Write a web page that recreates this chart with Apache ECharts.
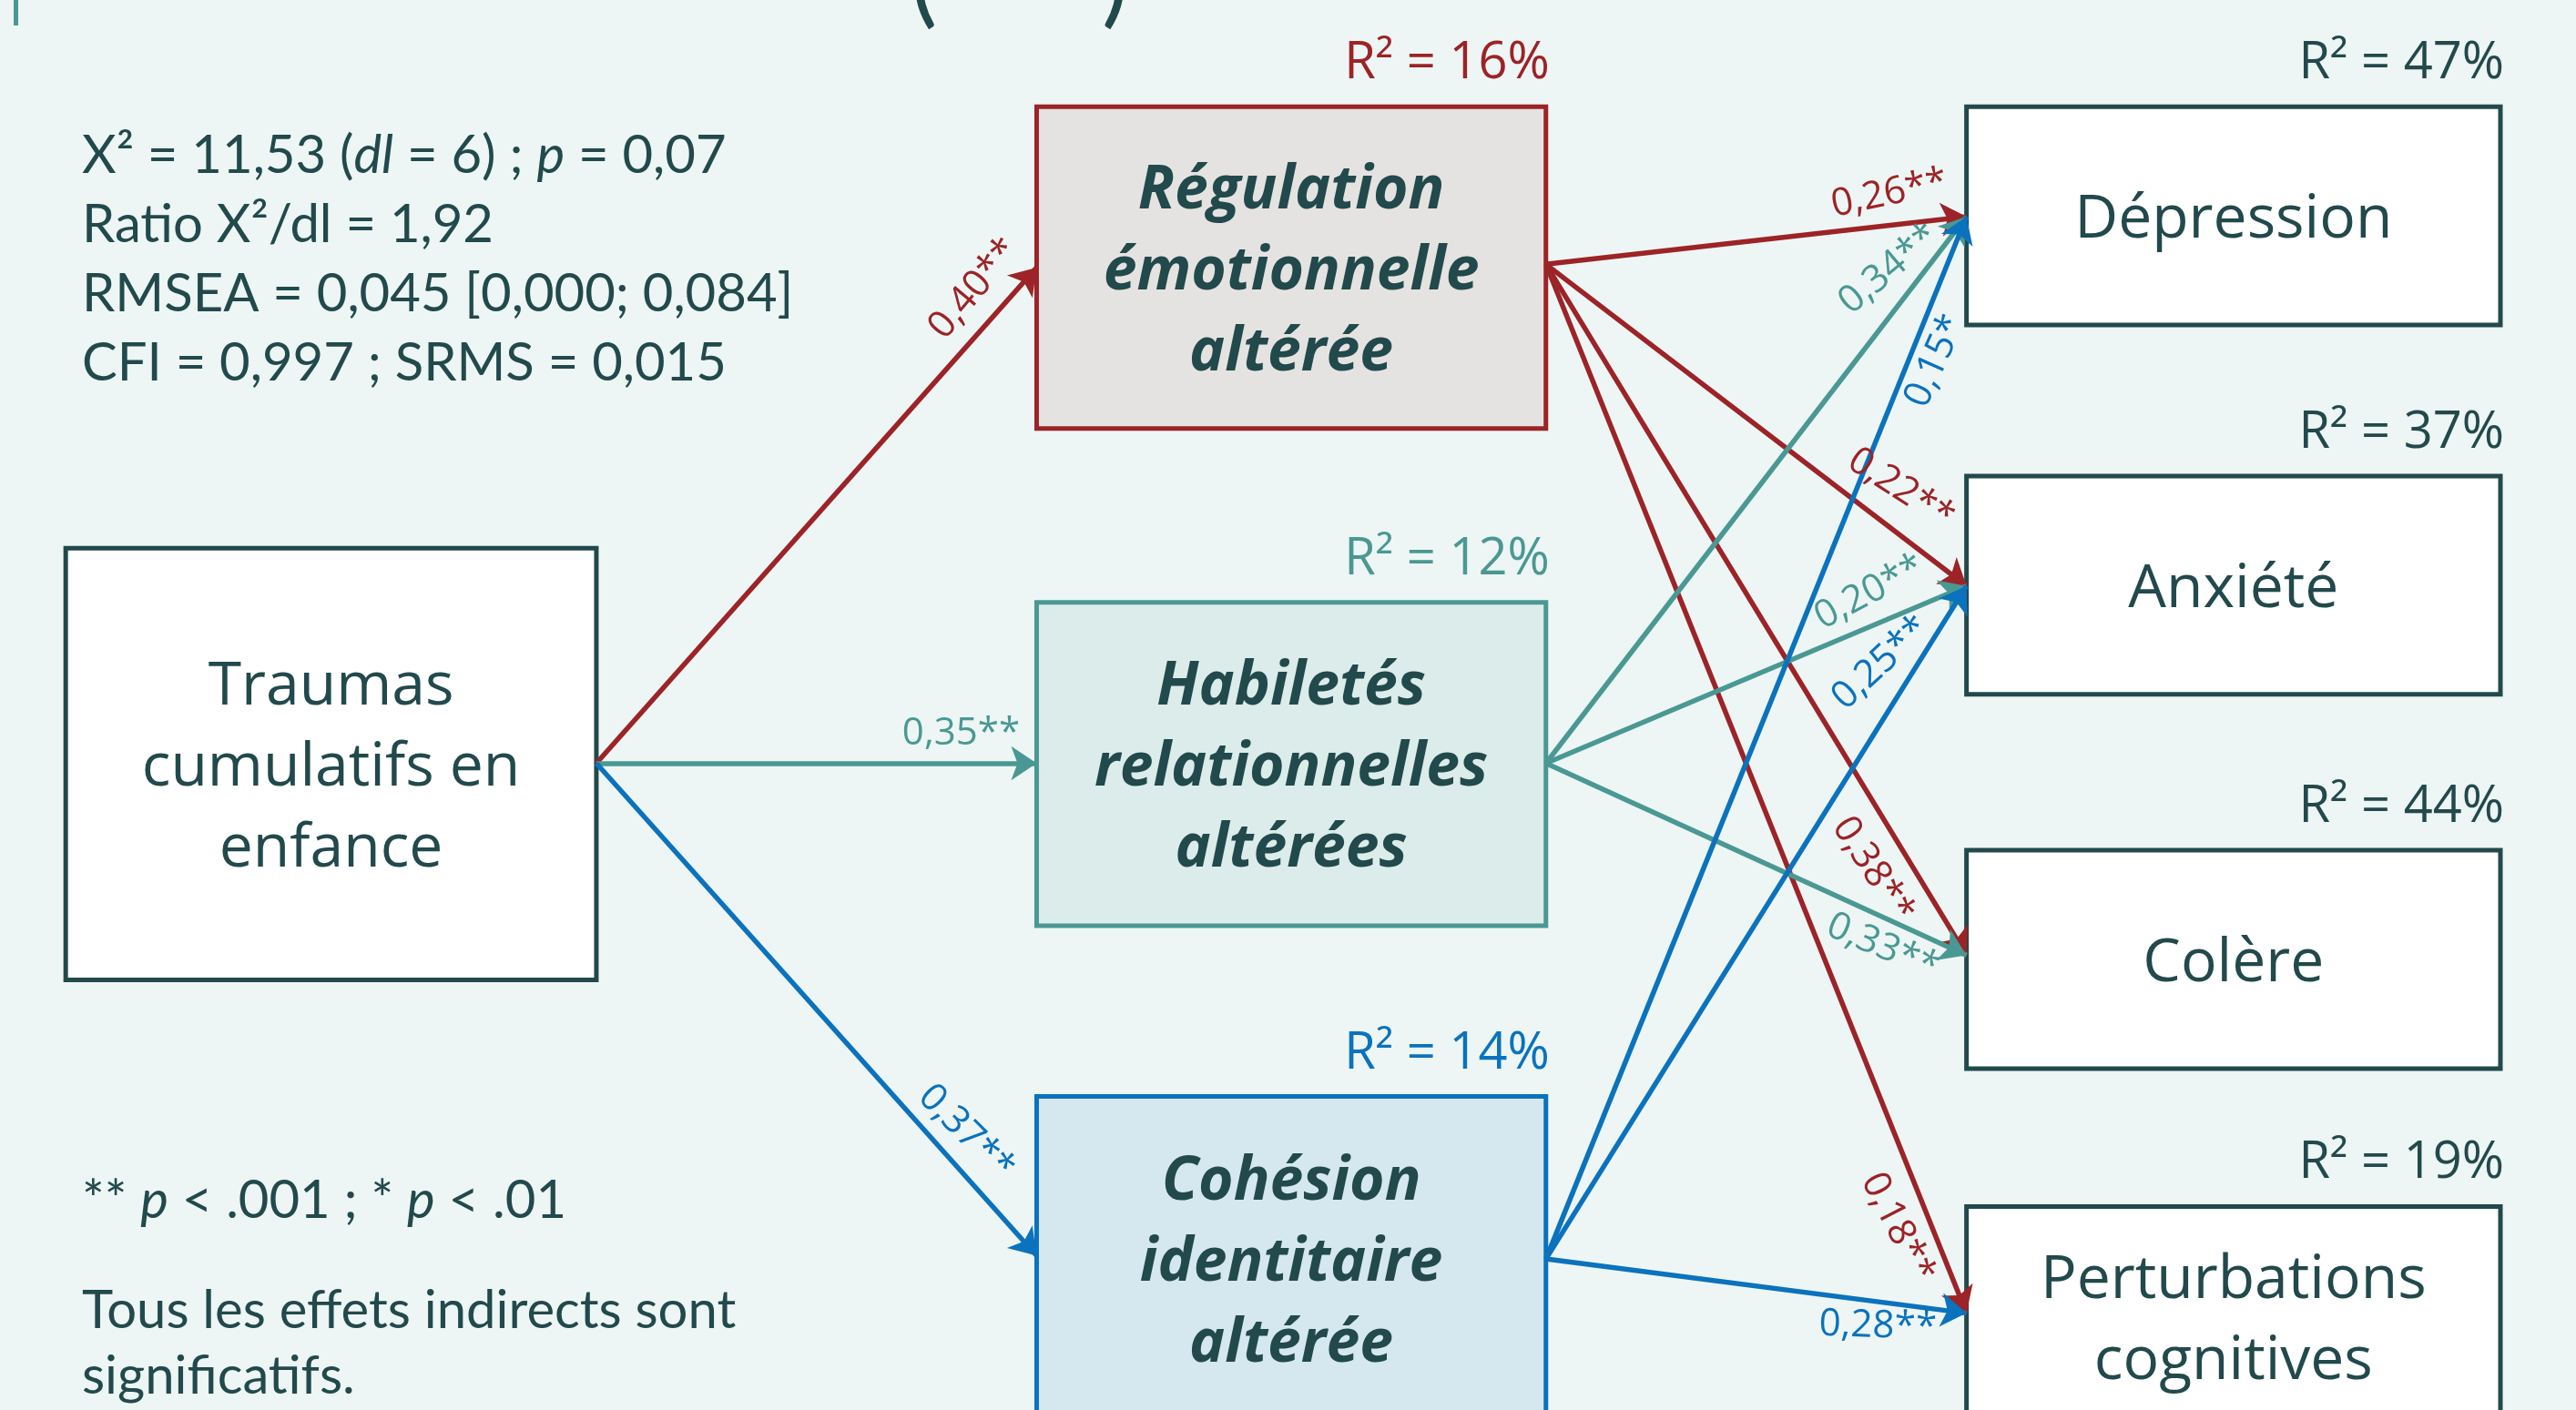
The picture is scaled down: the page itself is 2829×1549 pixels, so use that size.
<!DOCTYPE html>
<html>
<head>
<meta charset="utf-8">
<script src="https://cdn.jsdelivr.net/npm/echarts@6/dist/echarts.min.js"></script>
<style>
  html, body { margin: 0; padding: 0; background: #edf6f5; }
  #main { width: 2829px; height: 1549px; }
</style>
</head>
<body>
<div id="main"></div>
<script>
// donnees du modele
const nodeNames = [
  'Traumas\ncumulatifs en\nenfance',
  'Régulation\némotionnelle\naltérée',
  'Habiletés\nrelationnelles\naltérées',
  'Cohésion\nidentitaire\naltérée',
  'Dépression',
  'Anxiété',
  'Colère',
  'Perturbations\ncognitives'
]
const rSquared = [null, 16, 12, 14, 47, 37, 44, 19]
const pathFrom = [0, 0, 0, 1, 1, 1, 1, 2, 2, 2, 3, 3, 3]
const pathTo = [1, 2, 3, 4, 5, 6, 7, 4, 5, 6, 4, 5, 7]
const pathCoef = [0.40, 0.35, 0.37, 0.26, 0.22, 0.38, 0.18, 0.34, 0.20, 0.33, 0.15, 0.25, 0.28]
const pathStars = ['**', '**', '**', '**', '**', '**', '**', '**', '**', '**', '*', '**', '**']
const fitLines = [
  'X² = 11,53 ({i|dl} = 6) ; {i|p} = 0,07',
  'Ratio X²/dl = 1,92',
  'RMSEA = 0,045 [0,000; 0,084]',
  'CFI = 0,997 ; SRMS = 0,015'
]
const noteLines = [
  '** {i|p} < .001 ; * {i|p} < .01',
  'Tous les effets indirects sont',
  'significatifs.'
]

// mise en page (unites de l'axe)
const boxRect = [
  [40, 334, 363, 597], [631, 65, 941, 261], [631, 367, 941, 564], [631, 668, 941, 866],
  [1197, 65, 1522, 198], [1197, 290, 1522, 423], [1197, 518, 1522, 651], [1197, 735, 1522, 870]
]
const anchorIn = [null, 163, 465, 765, 132, 357, 582, 800]
const anchorOut = [465, 161, 465, 767]
const labelPos = [
  [593, 176, -50], [585, 447, 0], [588, 690, 45],
  [1150, 118, -12], [1157, 298, 33], [1140, 530, 57], [1155, 748, 63],
  [1150, 164, -40], [1138, 361, -28], [1146, 577, 23],
  [1178, 220, -66], [1145, 404, -43], [1143, 808, 2]
]

const dark = '#22494b'
const red = '#9c2327'
const teal = '#4a9893'
const blue = '#0b72bd'
const nodeStroke = [dark, red, teal, blue, dark, dark, dark, dark]
const nodeFill = ['#ffffff', '#e5e3e1', '#dcecea', '#d5e8ef', '#ffffff', '#ffffff', '#ffffff', '#ffffff']
const boldNode = [false, true, true, true, false, false, false, false]
const boxFont = '"Open Sans", "Lato", sans-serif'

function pathColor (k) {
  let mid = pathFrom[k] === 0 ? pathTo[k] : pathFrom[k]
  return nodeStroke[mid]
}
function fmt (v) {
  return v.toFixed(2).replace('.', ',')
}

var dom = document.getElementById('main')
var myChart = echarts.init(dom, null, { renderer: 'canvas' })

var boxData = boxRect.map(function (r, i) { return [(r[0] + r[2]) / 2, (r[1] + r[3]) / 2, i] })
var lineData = pathFrom.map(function (f, k) {
  let t = pathTo[k]
  return {
    coords: [[boxRect[f][2], anchorOut[f]], [boxRect[t][0], anchorIn[t]]],
    lineStyle: { color: pathColor(k) }
  }
})
var labelData = labelPos.map(function (p, k) { return [p[0], p[1], k] })

function renderBox (params, api) {
  let i = api.value(2)
  let r = boxRect[i]
  let p0 = api.coord([r[0], r[1]])
  let p1 = api.coord([r[2], r[3]])
  let children = [{
    type: 'rect',
    shape: { x: p0[0], y: p0[1], width: p1[0] - p0[0], height: p1[1] - p0[1] },
    style: { fill: nodeFill[i], stroke: nodeStroke[i], lineWidth: 5 }
  }, {
    type: 'text',
    style: {
      text: nodeNames[i],
      x: (p0[0] + p1[0]) / 2,
      y: (p0[1] + p1[1]) / 2 + 5,
      align: 'center',
      verticalAlign: 'middle',
      fill: dark,
      fontFamily: boxFont,
      fontSize: 66,
      fontWeight: boldNode[i] ? 'bold' : 'normal',
      fontStyle: boldNode[i] ? 'italic' : 'normal',
      lineHeight: 89
    }
  }]
  if (rSquared[i] !== null) {
    children.push({
      type: 'text',
      style: {
        text: 'R² = ' + rSquared[i] + '%',
        x: p1[0] + 4,
        y: p0[1] - 47,
        align: 'right',
        verticalAlign: 'middle',
        fill: nodeStroke[i] === dark ? dark : nodeStroke[i],
        fontFamily: boxFont,
        fontSize: 56
      }
    })
  }
  return { type: 'group', children: children }
}

function renderLabel (params, api) {
  let k = api.value(2)
  let pt = api.coord([api.value(0), api.value(1)])
  return {
    type: 'text',
    x: pt[0],
    y: pt[1],
    rotation: -labelPos[k][2] * Math.PI / 180,
    style: {
      text: fmt(pathCoef[k]) + pathStars[k],
      align: 'center',
      verticalAlign: 'middle',
      fill: pathColor(k),
      fontFamily: boxFont,
      fontSize: 42
    }
  }
}

var textBase = { fill: dark, fontFamily: 'Lato, sans-serif', fontSize: 58 }
var rich = { i: { fontStyle: 'italic', fontFamily: 'Lato, sans-serif', fontSize: 58, fill: dark } }
var graphics = []
fitLines.forEach(function (s, n) {
  graphics.push({ type: 'text', x: 90, y: 171 + n * 76, style: Object.assign({ text: s, verticalAlign: 'middle', rich: rich }, textBase) })
})
var noteY = [1319, 1440, 1512]
noteLines.forEach(function (s, n) {
  graphics.push({ type: 'text', x: 90, y: noteY[n], style: Object.assign({ text: s, verticalAlign: 'middle', rich: rich }, textBase) })
})
// bout du titre coupe et barre de gauche
graphics.push({ type: 'rect', shape: { x: 15, y: 0, width: 5, height: 28 }, style: { fill: teal } })
graphics.push({ type: 'text', x: 1000, y: 36, style: { text: '(', verticalAlign: 'bottom', fill: dark, fontFamily: 'Lato, sans-serif', fontSize: 110 } })
graphics.push({ type: 'text', x: 1210, y: 36, style: { text: ')', verticalAlign: 'bottom', fill: dark, fontFamily: 'Lato, sans-serif', fontSize: 110 } })

var option = {
  backgroundColor: '#edf6f5',
  animation: false,
  grid: { left: 0, right: 0, top: 0, bottom: 0 },
  xAxis: { type: 'value', min: 0, max: 1568, show: false },
  yAxis: { type: 'value', min: 0, max: 859, inverse: true, show: false },
  graphic: graphics,
  series: [{
    type: 'custom',
    name: 'boxes',
    renderItem: renderBox,
    data: boxData,
    encode: { x: 0, y: 1 },
    z: 1
  }, {
    type: 'lines',
    coordinateSystem: 'cartesian2d',
    symbol: ['none', 'arrow'],
    symbolSize: 28,
    lineStyle: { width: 5.5, opacity: 1 },
    data: lineData,
    z: 2
  }, {
    type: 'custom',
    name: 'coefs',
    renderItem: renderLabel,
    data: labelData,
    encode: { x: 0, y: 1 },
    z: 3
  }]
}
myChart.setOption(option)
</script>
</body>
</html>
